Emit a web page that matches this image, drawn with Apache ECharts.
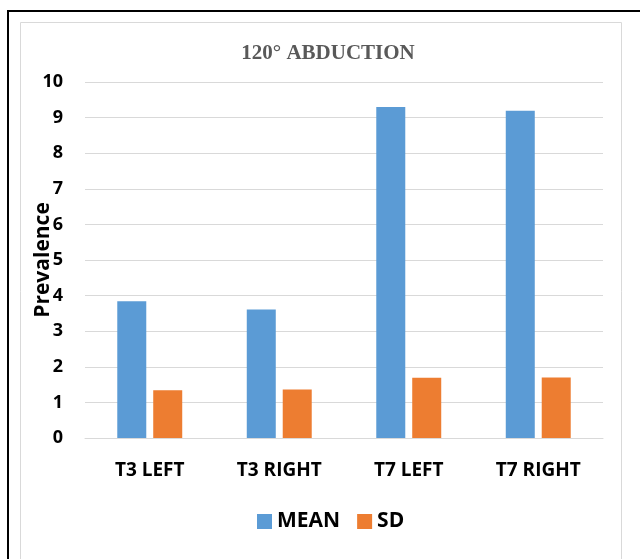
<!DOCTYPE html>
<html><head><meta charset="utf-8">
<script src="https://cdn.jsdelivr.net/npm/echarts@6/dist/echarts.min.js"></script>
<style>html,body{margin:0;padding:0;background:#fff}#c{width:640px;height:559px}</style>
</head><body><div id="c"></div>
<script>
const categories = ['T3 LEFT', 'T3 RIGHT', 'T7 LEFT', 'T7 RIGHT'];
const meanValues = [3.84, 3.61, 9.3, 9.19];
const sdValues = [1.34, 1.36, 1.69, 1.7];
const yTicks = [0, 1, 2, 3, 4, 5, 6, 7, 8, 9, 10];

const chart = echarts.init(document.getElementById('c'));
const lab = {fontFamily: 'Open Sans', fontWeight: 'bold', color: '#000'};
chart.setOption({
  animation: false,
  title: {text: '120° ABDUCTION', left: 323, textAlign: 'center', top: 38,
    textStyle: {fontFamily: 'Liberation Serif', fontWeight: 'bold', fontSize: 21, color: '#595959'}},
  graphic: [
    {type: 'rect', shape: {x: 8, y: 11, width: 640, height: 600}, style: {fill: 'none', stroke: '#000', lineWidth: 2}, z: -1},
    {type: 'rect', shape: {x: 20.5, y: 22.5, width: 601, height: 600}, style: {fill: 'none', stroke: '#d9d9d9', lineWidth: 1}, z: -1}
  ],
  legend: {bottom: 22, left: 252, itemWidth: 15, itemHeight: 15, itemGap: 17,
    icon: 'rect', textStyle: Object.assign({fontSize: 21}, lab), data: ['MEAN', 'SD']},
  grid: {left: 85, right: 37, top: 82, bottom: 121},
  xAxis: {type: 'category', data: categories,
    axisLine: {lineStyle: {color: '#d9d9d9', width: 1}}, axisTick: {show: false},
    axisLabel: Object.assign({margin: 23, fontSize: 19}, lab)},
  yAxis: {type: 'value', min: yTicks[0], max: yTicks[yTicks.length - 1], interval: 1,
    name: 'Prevalence', nameLocation: 'middle', nameRotate: 90, nameGap: 31, nameMoveOverlap: false,
    nameTextStyle: {fontFamily: 'Open Sans', fontWeight: 'bold', fontSize: 21, color: '#000'},
    axisLine: {show: false}, axisTick: {show: false},
    axisLabel: Object.assign({margin: 22, fontSize: 18}, lab),
    splitLine: {lineStyle: {color: '#d9d9d9', width: 1}}},
  series: [
    {name: 'MEAN', type: 'bar', data: meanValues, barWidth: 29, barGap: '24%', itemStyle: {color: '#5B9BD5'}},
    {name: 'SD', type: 'bar', data: sdValues, barWidth: 29, itemStyle: {color: '#ED7D31'}}
  ]
});
</script></body></html>
